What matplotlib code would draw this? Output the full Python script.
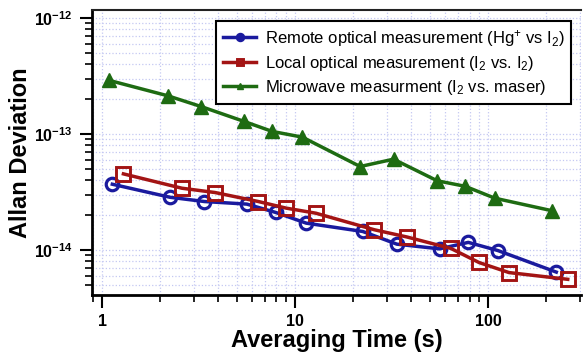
import matplotlib
matplotlib.use("Agg")
import matplotlib.pyplot as plt
from matplotlib.ticker import LogLocator, FixedLocator, FixedFormatter, NullFormatter

plt.rcParams["font.family"] = ["Liberation Sans", "DejaVu Sans"]
plt.rcParams["mathtext.fontset"] = "custom"
plt.rcParams["mathtext.rm"] = "Liberation Sans"
plt.rcParams["mathtext.it"] = "Liberation Sans:italic"
plt.rcParams["mathtext.bf"] = "Liberation Sans:bold"

# averaging times (s) and Allan deviations for each comparison
tau_remote = [1.13, 2.25, 3.39, 5.62, 7.94, 11.4, 22.4, 33.6, 55.9, 78.8, 112, 225]
adev_remote = [3.68e-14, 2.84e-14, 2.61e-14, 2.48e-14, 2.10e-14, 1.70e-14,
               1.44e-14, 1.12e-14, 1.02e-14, 1.16e-14, 9.87e-15, 6.43e-15]

tau_local = [1.29, 2.59, 3.85, 6.45, 8.98, 12.8, 25.7, 38.0, 63.9, 89.5, 128, 258]
adev_local = [4.52e-14, 3.40e-14, 3.12e-14, 2.61e-14, 2.29e-14, 2.07e-14,
              1.49e-14, 1.29e-14, 1.03e-14, 7.78e-15, 6.37e-15, 5.57e-15]

tau_micro = [1.09, 2.19, 3.26, 5.44, 7.60, 10.9, 21.7, 32.3, 54.4, 76.0, 108, 215]
adev_micro = [2.89e-13, 2.13e-13, 1.72e-13, 1.28e-13, 1.05e-13, 9.37e-14,
              5.23e-14, 6.05e-14, 3.94e-14, 3.53e-14, 2.79e-14, 2.17e-14]

labels = [r"Remote optical measurement (Hg$^{+}$ vs I$_2$)",
          r"Local optical measurement (I$_2$ vs. I$_2$)",
          r"Microwave measurment (I$_2$ vs. maser)"]

x_ticks = [1, 10, 100]
x_ticklabels = ["1", "10", "100"]
y_ticks = [1e-14, 1e-13, 1e-12]
y_ticklabels = [r"$\mathbf{10^{-14}}$", r"$\mathbf{10^{-13}}$", r"$\mathbf{10^{-12}}$"]

fig = plt.figure(figsize=(5.83, 3.57), dpi=100)
ax = fig.add_axes([0.158, 0.174, 0.839, 0.798])

blue = "#1a1a9e"
red = "#a31414"
green = "#1e6b12"

ax.plot(tau_remote, adev_remote, "-o", color=blue, lw=2.5, ms=9,
        mfc="none", mew=2.3, label=labels[0])
ax.plot(tau_local, adev_local, "-s", color=red, lw=2.5, ms=9.5,
        mfc="none", mew=2.1, label=labels[1])
ax.plot(tau_micro, adev_micro, "-^", color=green, lw=2.5, ms=10,
        mew=1.0, label=labels[2])

ax.set_xscale("log")
ax.set_yscale("log")
ax.set_xlim(0.888, 303)
ax.set_ylim(4.09e-15, 1.17e-12)

ax.xaxis.set_major_locator(FixedLocator(x_ticks))
ax.xaxis.set_major_formatter(FixedFormatter(x_ticklabels))
ax.yaxis.set_major_locator(FixedLocator(y_ticks))
ax.yaxis.set_major_formatter(FixedFormatter(y_ticklabels))
ax.xaxis.set_minor_locator(LogLocator(base=10, subs=range(2, 10)))
ax.yaxis.set_minor_locator(LogLocator(base=10, subs=range(2, 10)))
ax.xaxis.set_minor_formatter(NullFormatter())
ax.yaxis.set_minor_formatter(NullFormatter())

ax.grid(True, which="both", color="#c4c8f2", ls=":", lw=0.9)
ax.set_axisbelow(True)

ax.tick_params(which="major", direction="out", length=9, width=1.5,
               labelsize=11.5)
ax.tick_params(axis="x", which="major", pad=5)
ax.tick_params(axis="y", which="major", pad=5)
ax.tick_params(which="minor", direction="out", length=5, width=1.2)
for lab in ax.get_xticklabels():
    lab.set_fontweight("bold")

for side in ("left", "bottom"):
    ax.spines[side].set_linewidth(2)
ax.spines["top"].set_linewidth(1.5)
ax.spines["top"].set_color("#222222")
ax.spines["right"].set_visible(False)

ax.set_xlabel("Averaging Time (s)", fontsize=17, fontweight="bold", labelpad=0)
ax.set_ylabel("Allan Deviation", fontsize=17, fontweight="bold", labelpad=1)

leg = ax.legend(loc="upper right", bbox_to_anchor=(0.997, 0.99), fontsize=12,
                markerscale=0.5, handlelength=2.0, handletextpad=0.5,
                borderpad=0.4, labelspacing=0.3, fancybox=False,
                framealpha=1, edgecolor="black")
leg.get_frame().set_linewidth(1.5)

fig.savefig("out.png", dpi=100)
